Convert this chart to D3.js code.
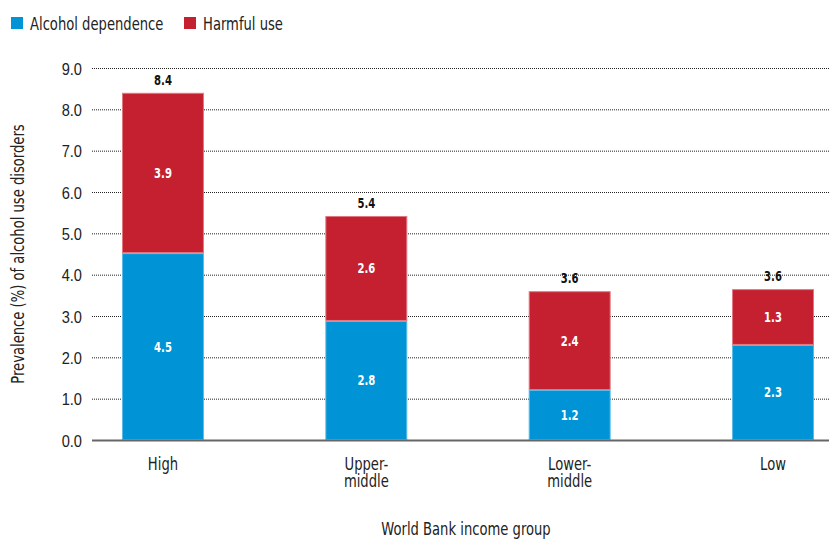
<!DOCTYPE html>
<html><head><meta charset="utf-8">
<script src="https://cdn.jsdelivr.net/npm/d3@7"></script>
<style>
body{margin:0;background:#fff;}
svg{display:block;font-family:"DejaVu Sans Condensed","DejaVu Sans",sans-serif;}
</style></head>
<body><svg id="c" width="829" height="540"></svg>
<script>
const categories = [["High"], ["Upper-", "middle"], ["Lower-", "middle"], ["Low"]];
const dependence = [4.52, 2.88, 1.21, 2.30];
const harmful = [3.88, 2.54, 2.39, 1.35];
const dependenceLabels = ["4.5", "2.8", "1.2", "2.3"];
const harmfulLabels = ["3.9", "2.6", "2.4", "1.3"];
const totalLabels = ["8.4", "5.4", "3.6", "3.6"];
const yTicks = [0, 1, 2, 3, 4, 5, 6, 7, 8, 9];
const seriesNames = ["Alcohol dependence", "Harmful use"];
const colors = ["#0093d5", "#c4202f"];
const strokes = ["#5bbbe8", "#e07880"];

(function(){
const SX = 0.86;
const svg = d3.select("#c");
const mL = 92, mR = 829, mT = 68, mB = 440;
const keys = categories.map(c => c.join(""));
const x = d3.scaleBand().domain(keys).range([122, 814]).paddingInner(0.597).paddingOuter(0);
const y = d3.scaleLinear().domain([0, 9]).range([mB, mT]);

function txt(g, px, py, s, opts) {
  const o = Object.assign({size: 16, anchor: "start", fill: "#222", weight: "normal", sx: SX, rot: 0}, opts || {});
  return g.append("text")
    .attr("transform", `translate(${px},${py}) rotate(${o.rot}) scale(${o.sx},1)`)
    .attr("text-anchor", o.anchor).attr("font-size", o.size).attr("fill", o.fill)
    .attr("font-weight", o.weight).text(s);
}

const grid = svg.append("g");
yTicks.filter(t => t > 0).forEach(t => {
  grid.append("line").attr("x1", mL).attr("x2", mR).attr("y1", y(t) + 0.5).attr("y2", y(t) + 0.5)
    .attr("stroke", "#222").attr("stroke-width", 1).attr("stroke-dasharray", "1,1");
});

const yAxis = d3.axisLeft(y).tickValues(yTicks).tickFormat(d3.format(".1f")).tickSize(0).tickPadding(0);
const ya = svg.append("g").attr("transform", `translate(${mL},0)`).call(yAxis);
ya.select(".domain").remove();
ya.selectAll("text").attr("x", null).attr("dy", null)
  .attr("transform", `translate(-10,6) scale(${SX},1)`)
  .attr("font-size", 17).attr("fill", "#222").attr("font-family", "inherit");

const data = keys.map((k, i) => ({k, d: dependence[i], h: harmful[i]}));
const stack = d3.stack().keys(["d", "h"])(data);
stack.forEach((layer, li) => {
  svg.append("g").selectAll("rect").data(layer).join("rect")
    .attr("x", d => x(d.data.k) + 0.5)
    .attr("width", x.bandwidth() - 1)
    .attr("y", d => y(d[1]) + 0.5)
    .attr("height", d => y(d[0]) - y(d[1]) - 1)
    .attr("fill", colors[li]).attr("stroke", strokes[li]).attr("stroke-width", 1);
});
stack.forEach((layer, li) => {
  const labs = li === 0 ? dependenceLabels : harmfulLabels;
  layer.forEach((d, i) => {
    txt(svg, x(d.data.k) + x.bandwidth() / 2, (y(d[0]) + y(d[1])) / 2 + 5, labs[i],
      {anchor: "middle", fill: "#fff", weight: "bold", size: 14, sx: 0.8});
  });
});
stack[1].forEach((d, i) => {
  txt(svg, x(d.data.k) + x.bandwidth() / 2, y(d[1]) - 8, totalLabels[i],
    {anchor: "middle", fill: "#111", weight: "bold", size: 14, sx: 0.8});
});

svg.append("line").attr("x1", mL).attr("x2", mR).attr("y1", mB + 0.5).attr("y2", mB + 0.5)
  .attr("stroke", "#666").attr("stroke-width", 2);

categories.forEach((c, i) => {
  const cx = x(keys[i]) + x.bandwidth() / 2;
  c.forEach((line, j) => txt(svg, cx, 470 + j * 17, line, {anchor: "middle", size: 17}));
});

txt(svg, 466, 535, "World Bank income group", {anchor: "middle", size: 17});
txt(svg, 24, 254, "Prevalence (%) of alcohol use disorders", {anchor: "middle", size: 17, rot: -90});

const legX = [11, 184];
seriesNames.forEach((n, i) => {
  svg.append("rect").attr("x", legX[i]).attr("y", 17).attr("width", 12).attr("height", 12).attr("fill", colors[i]);
  txt(svg, legX[i] + 19, 29.5, n, {size: 17});
});
})();
</script></body></html>
